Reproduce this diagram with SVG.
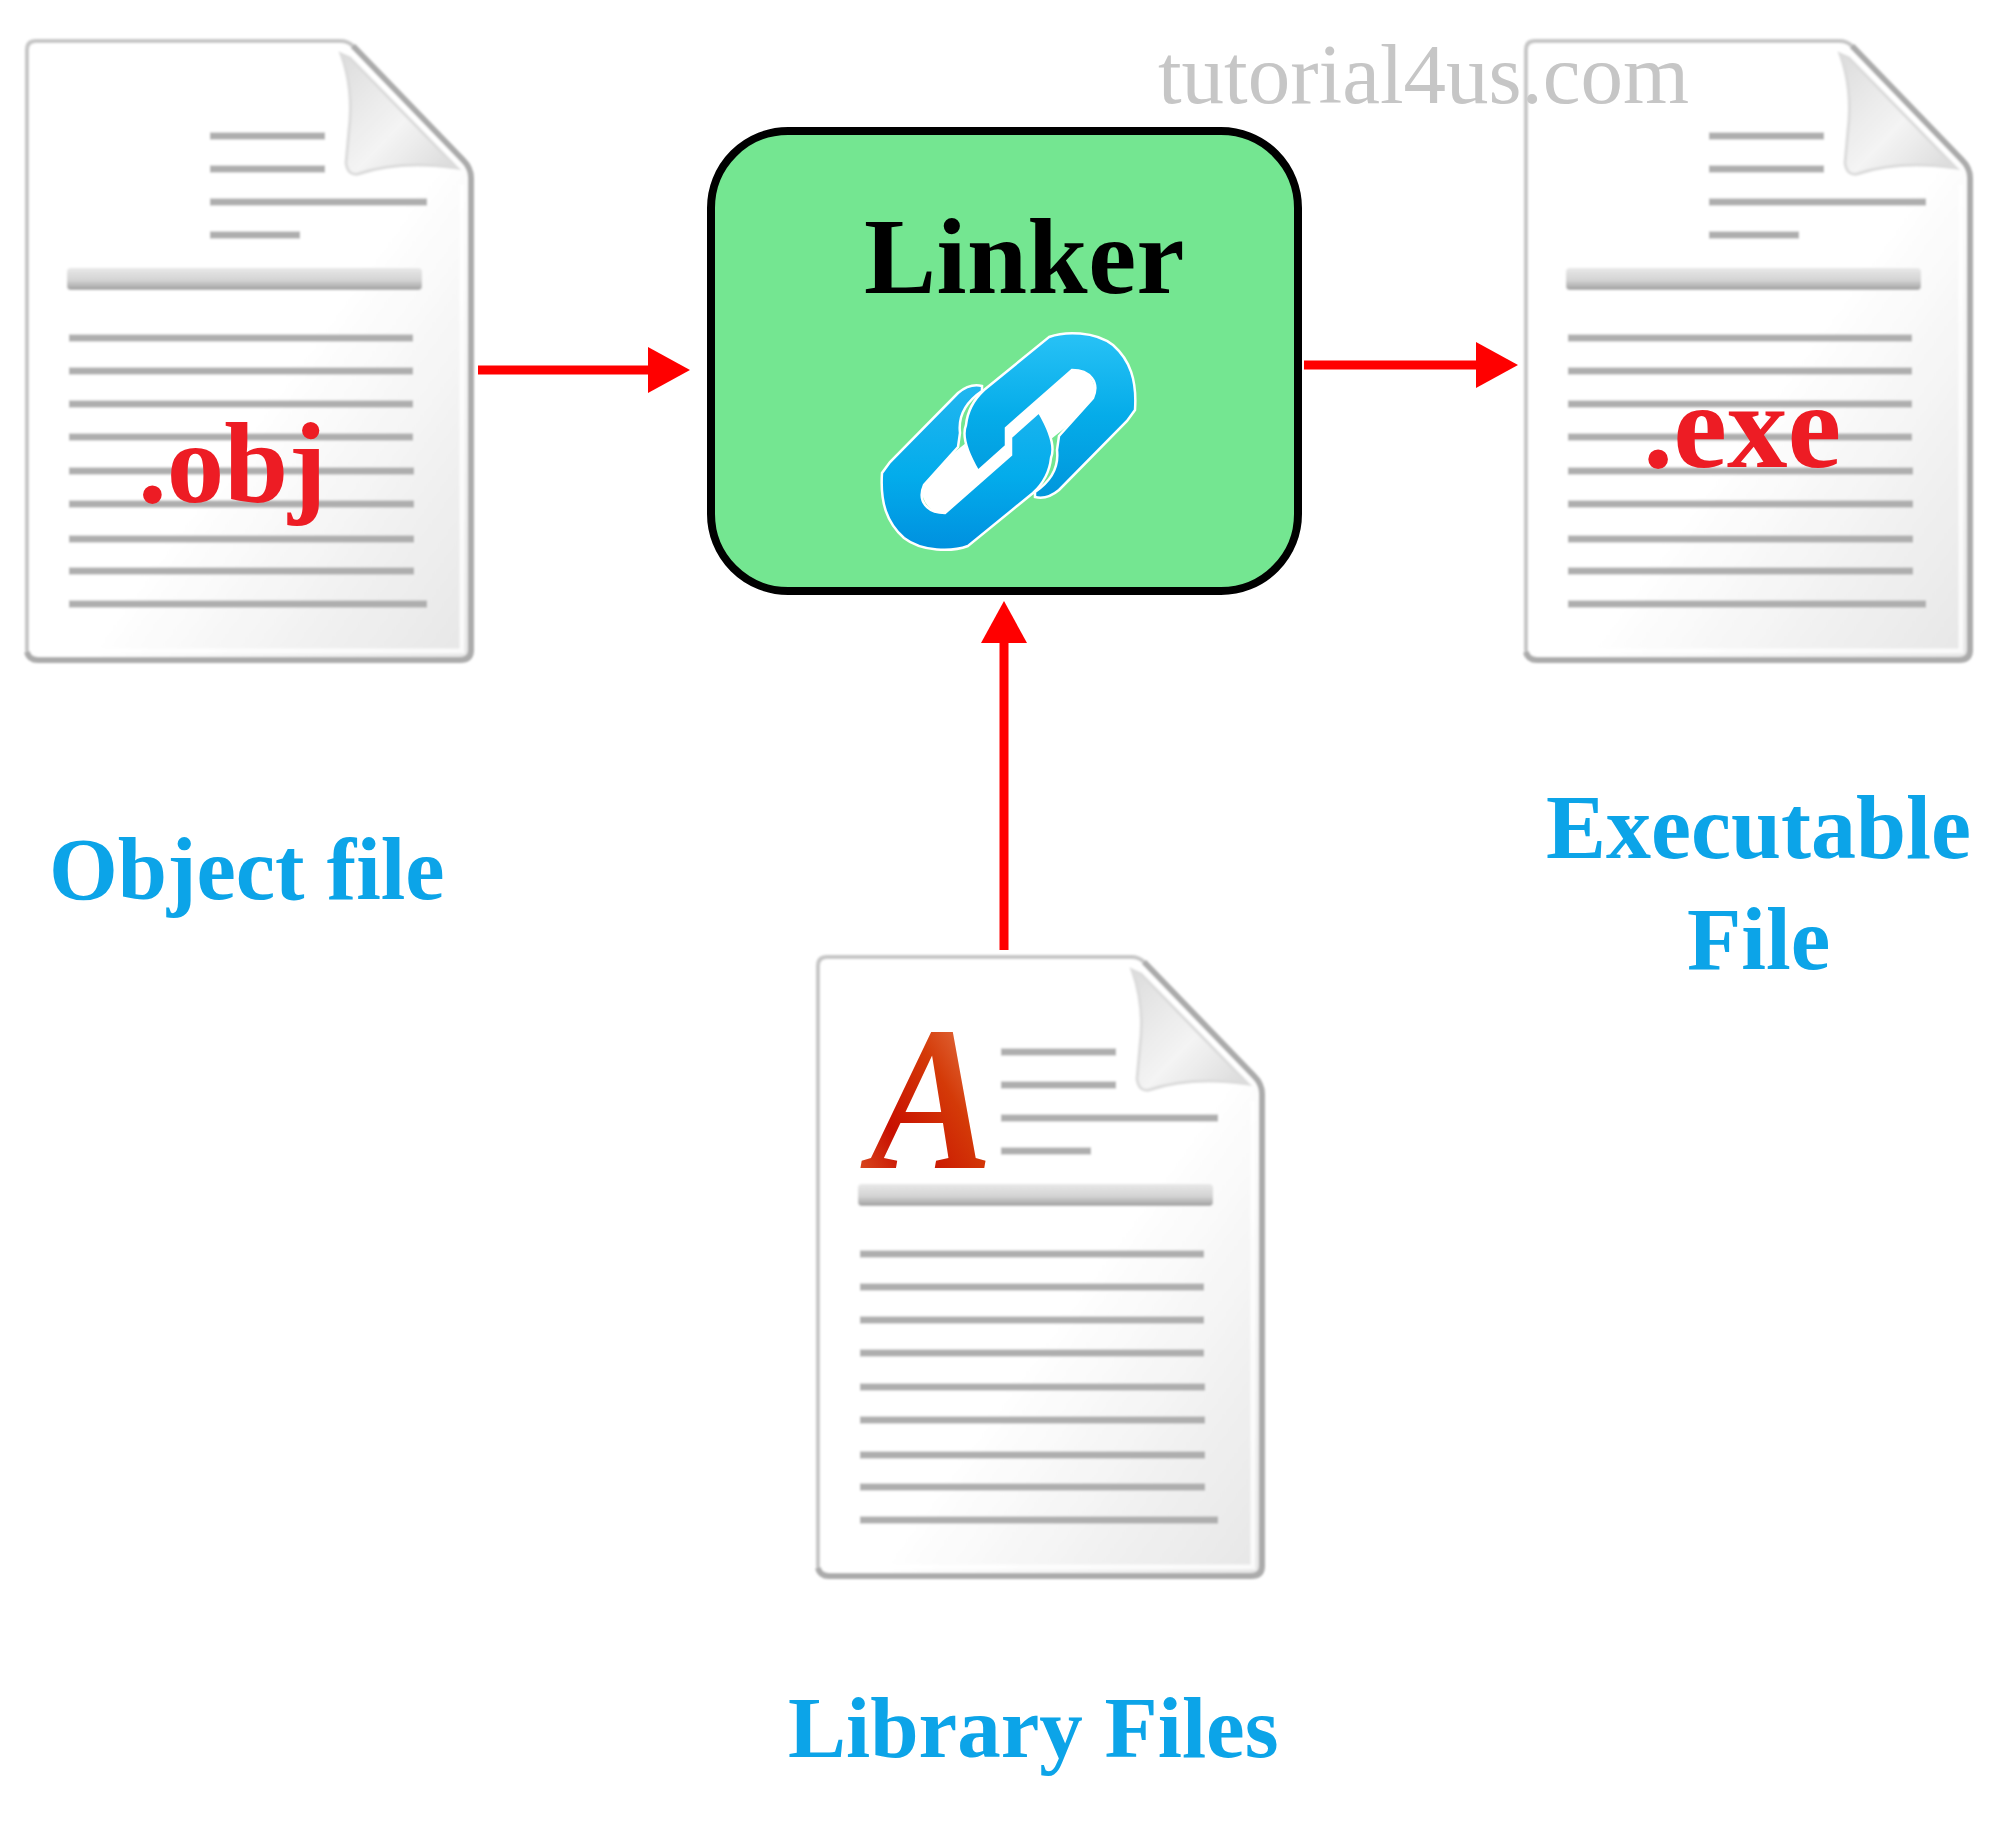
<svg xmlns="http://www.w3.org/2000/svg" width="2000" height="1833" viewBox="0 0 2000 1833">
<style>
.ser{font-family:"Liberation Serif","Times New Roman",serif;font-weight:700}
.lbl{font-size:88px;fill:#0ca4e8}
.ext{fill:#ed1c24}
.ln{stroke:#aeaeae;stroke-width:7;fill:none}
.conn{stroke:#ff0000;stroke-width:9;fill:none;marker-end:url(#ah)}
.link{stroke:#fff;stroke-width:2.5}
</style>
<defs>
<marker id="ah" markerUnits="userSpaceOnUse" markerWidth="44" markerHeight="46" refX="0" refY="23" orient="auto"><path d="M0 0L42 23L0 46Z" fill="#ff0000"/></marker>
<filter id="soft" x="-5%" y="-5%" width="110%" height="110%"><feGaussianBlur stdDeviation="1.2"/></filter>
<linearGradient id="page" x1="0.2" y1="0.2" x2="1" y2="1"><stop offset="0.45" stop-color="#fff"/><stop offset="1" stop-color="#e6e6e6"/></linearGradient>
<linearGradient id="fold" x1="0" y1="0" x2="1" y2="1"><stop offset="0" stop-color="#dcdcdc"/><stop offset="0.55" stop-color="#f4f4f4"/><stop offset="1" stop-color="#d8d8d8"/></linearGradient>
<linearGradient id="bar" x1="0" y1="0" x2="0" y2="1"><stop offset="0" stop-color="#e8e8e8"/><stop offset="0.55" stop-color="#d4d4d4"/><stop offset="1" stop-color="#a0a0a0"/></linearGradient>
<linearGradient id="lk1" x1="0" y1="0" x2="0" y2="1"><stop offset="0" stop-color="#28c2f6"/><stop offset="0.5" stop-color="#05ace9"/><stop offset="1" stop-color="#0096dc"/></linearGradient>
<linearGradient id="lk2" x1="0" y1="1" x2="0" y2="0"><stop offset="0" stop-color="#22b6f0"/><stop offset="0.55" stop-color="#03aceb"/><stop offset="1" stop-color="#0090df"/></linearGradient>
<linearGradient id="aGrad" x1="1" y1="0" x2="0" y2="1"><stop offset="0" stop-color="#ee9a70"/><stop offset="0.4" stop-color="#d43a08"/><stop offset="0.7" stop-color="#c80f00"/><stop offset="1" stop-color="#e0602a"/></linearGradient>
<g id="doc" filter="url(#soft)">
<path d="M36 41L340 41Q348 41 353 46L463 160Q471 168 471 178L471 650Q471 660 460 660L38 660Q27 660 27 650L27 50Q27 41 36 41Z" fill="url(#page)" stroke="#c6c6c6" stroke-width="4"/>
<path d="M353 46L463 160Q471 168 471 178L471 650Q471 660 460 660L38 660Q29 660 27 652" fill="none" stroke="#ababab" stroke-width="6"/>
<path d="M462 185L462 651L42 651" fill="none" stroke="#fff" stroke-width="5" opacity="0.8"/>
<path d="M341 54Q354 90 349 130L346 163Q348 176 358 174Q400 160 457 168L350 58Z" fill="url(#fold)" stroke="#dcdcdc" stroke-width="3"/>
<path class="ln" d="M210 136H325M210 169H325M210 202H427M210 235H300"/>
<rect x="67" y="268" width="355" height="22" rx="4" fill="url(#bar)"/>
<path class="ln" d="M69 338H413M69 371H413M69 404H413M69 437H413M69 471H414M69 504H414M69 539H414M69 571H414M69 604H427"/>
</g>
<path id="lkp" d="M1049 337C1065 331 1095 331 1113 345C1130 360 1137 380 1135 410L1127 421L1059 490Q1047 500 1035 497L1035 492Q1060 475 1057 450L1059 436L1093 398C1100 382 1090 370 1072 370L1006 428L1006 446L978 471Q960 440 966 425Q968 405 984 390Z"/>
</defs>
<rect width="2000" height="1833" fill="#fff"/>

<g id="node-object-file">
<use href="#doc"/>
<text class="ser ext" x="138" y="502" font-size="115">.obj</text>
<text class="ser lbl" x="49" y="899" style="font-size:88.5px">Object file</text>
</g>

<g id="node-linker">
<rect x="711" y="131" width="587" height="460" rx="77" ry="77" fill="#74e691" stroke="#000" stroke-width="8"/>
<text class="ser" x="864" y="293" font-size="108" letter-spacing="0.5" fill="#000">Linker</text>
<g id="link-icon">
<path d="M1070 392L947 490" stroke="#fff" stroke-width="50" stroke-linecap="round"/>
<use href="#lkp" class="link" fill="url(#lk1)"/>
<use href="#lkp" class="link" fill="url(#lk2)" transform="rotate(180 1008.5 441.5)"/>
</g>
</g>

<g id="node-executable-file">
<use href="#doc" x="1499"/>
<text class="ser ext" x="1643" y="467" font-size="121">.exe</text>
<text class="ser lbl" x="1546" y="858" style="font-size:90px">Executable</text>
<text class="ser lbl" x="1687" y="969" style="font-size:89px">File</text>
</g>

<g id="node-library-files">
<use href="#doc" x="791" y="916"/>
<text transform="translate(870 1168) scale(0.9 1)" font-family="'Liberation Serif','Times New Roman',serif" font-weight="700" font-style="italic" font-size="205" fill="url(#aGrad)">A</text>
<text class="ser lbl" x="788" y="1757" style="font-size:87px">Library Files</text>
</g>

<g id="connectors">
<line class="conn" x1="478" y1="370" x2="648" y2="370"/>
<line class="conn" x1="1304" y1="365" x2="1476" y2="365"/>
<line class="conn" x1="1004" y1="950" x2="1004" y2="643"/>
</g>

<text id="watermark" x="1158" y="103" font-family="'Liberation Serif','Times New Roman',serif" font-size="85" fill="#c6c6c6">tutorial4us.com</text>
</svg>
